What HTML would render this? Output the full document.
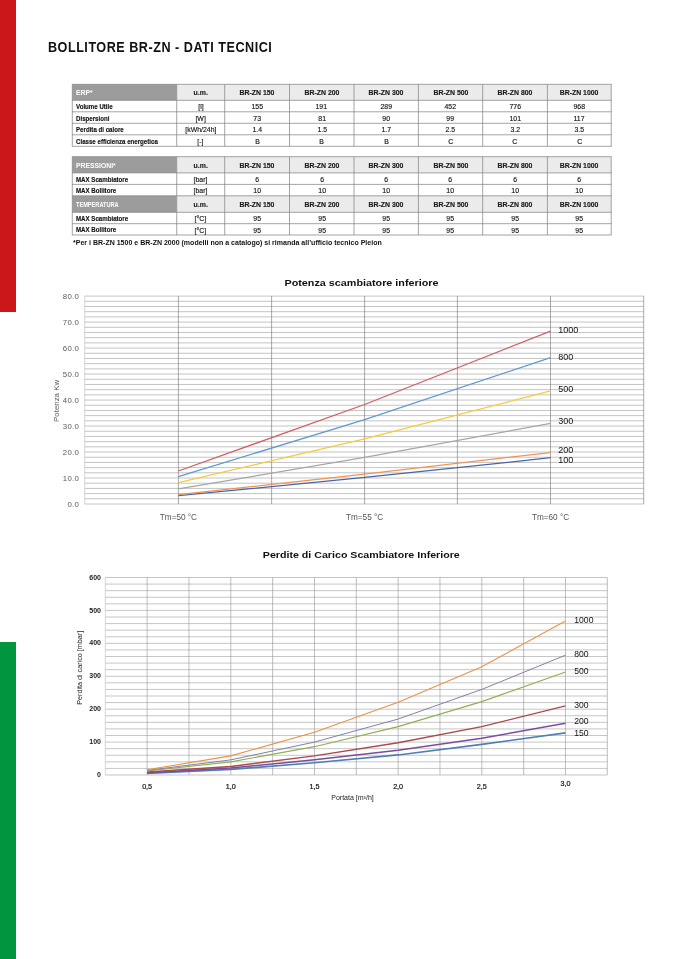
<!DOCTYPE html>
<html lang="it"><head><meta charset="utf-8"><title>Bollitore BR-ZN - Dati tecnici</title>
<style>
html,body{margin:0;padding:0;background:#fff;}
body{width:678px;height:959px;position:relative;overflow:hidden;font-family:"Liberation Sans",sans-serif;color:#1a1a1a;}
.abs{position:absolute;}
.bar{position:absolute;left:0;width:16px;}
.title{position:absolute;left:47.5px;top:40.1px;font-size:13.8px;font-weight:bold;white-space:nowrap;letter-spacing:0.55px;transform-origin:0 50%;transform:scaleX(0.915);color:#111;line-height:16px;}
.tb{position:absolute;left:0;top:0;width:678px;height:260px;}
.r{position:absolute;left:72.3px;width:539px;}
.r div{position:absolute;top:0;height:100%;text-align:center;white-space:nowrap;font-size:7.5px;color:#111;-webkit-text-stroke:0.15px #111;}
.r div span{display:inline-block;transform:scaleX(0.92);transform-origin:50% 50%;}
.r div.l, .r div.k{text-align:left;font-weight:bold;}
.r div.l span, .r div.k span{transform-origin:0 50%;}
.r div.l{color:#111;font-size:6.9px;}
.r div.l span{transform:scaleX(0.89);}
.r.h div{font-weight:bold;font-size:7.5px;color:#1c1c1c;}
.r.h div.k{color:#fff;font-size:7.4px;-webkit-text-stroke:0;}
.note{position:absolute;left:72.5px;top:238.3px;font-size:7.6px;font-weight:bold;white-space:nowrap;transform:scaleX(0.925);transform-origin:0 50%;line-height:10px;color:#111;}
svg{position:absolute;left:0;top:0;}
svg text{font-family:"Liberation Sans",sans-serif;}
</style></head><body>
<div class="bar" style="top:0;height:312.4px;background:#cb1719"></div>
<div class="bar" style="top:642.4px;height:317px;background:#00963f"></div>
<svg width="678" height="959" viewBox="0 0 678 959">
<rect x="72.3" y="84.30" width="104.40" height="16.00" fill="#9c9c9c"/>
<rect x="176.7" y="84.30" width="434.50" height="16.00" fill="#ebebeb"/>
<line x1="71.89999999999999" y1="84.30" x2="611.6" y2="84.30" stroke="#858585" stroke-width="0.75"/>
<line x1="71.89999999999999" y1="100.30" x2="611.6" y2="100.30" stroke="#858585" stroke-width="0.75"/>
<line x1="71.89999999999999" y1="111.80" x2="611.6" y2="111.80" stroke="#858585" stroke-width="0.75"/>
<line x1="71.89999999999999" y1="123.30" x2="611.6" y2="123.30" stroke="#858585" stroke-width="0.75"/>
<line x1="71.89999999999999" y1="134.80" x2="611.6" y2="134.80" stroke="#858585" stroke-width="0.75"/>
<line x1="71.89999999999999" y1="146.30" x2="611.6" y2="146.30" stroke="#858585" stroke-width="0.75"/>
<line x1="72.30" y1="84.30" x2="72.30" y2="146.30" stroke="#858585" stroke-width="0.75"/>
<line x1="176.70" y1="84.30" x2="176.70" y2="146.30" stroke="#858585" stroke-width="0.75"/>
<line x1="224.70" y1="84.30" x2="224.70" y2="146.30" stroke="#858585" stroke-width="0.75"/>
<line x1="289.50" y1="84.30" x2="289.50" y2="146.30" stroke="#858585" stroke-width="0.75"/>
<line x1="354.00" y1="84.30" x2="354.00" y2="146.30" stroke="#858585" stroke-width="0.75"/>
<line x1="418.40" y1="84.30" x2="418.40" y2="146.30" stroke="#858585" stroke-width="0.75"/>
<line x1="482.70" y1="84.30" x2="482.70" y2="146.30" stroke="#858585" stroke-width="0.75"/>
<line x1="547.40" y1="84.30" x2="547.40" y2="146.30" stroke="#858585" stroke-width="0.75"/>
<line x1="611.20" y1="84.30" x2="611.20" y2="146.30" stroke="#858585" stroke-width="0.75"/>
<rect x="72.3" y="156.70" width="104.40" height="16.20" fill="#9c9c9c"/>
<rect x="176.7" y="156.70" width="434.50" height="16.20" fill="#ebebeb"/>
<rect x="72.3" y="195.80" width="104.40" height="16.50" fill="#9c9c9c"/>
<rect x="176.7" y="195.80" width="434.50" height="16.50" fill="#ebebeb"/>
<line x1="71.89999999999999" y1="156.70" x2="611.6" y2="156.70" stroke="#858585" stroke-width="0.75"/>
<line x1="71.89999999999999" y1="172.90" x2="611.6" y2="172.90" stroke="#858585" stroke-width="0.75"/>
<line x1="71.89999999999999" y1="184.40" x2="611.6" y2="184.40" stroke="#858585" stroke-width="0.75"/>
<line x1="71.89999999999999" y1="195.80" x2="611.6" y2="195.80" stroke="#858585" stroke-width="0.75"/>
<line x1="71.89999999999999" y1="212.30" x2="611.6" y2="212.30" stroke="#858585" stroke-width="0.75"/>
<line x1="71.89999999999999" y1="223.70" x2="611.6" y2="223.70" stroke="#858585" stroke-width="0.75"/>
<line x1="71.89999999999999" y1="235.00" x2="611.6" y2="235.00" stroke="#858585" stroke-width="0.75"/>
<line x1="72.30" y1="156.70" x2="72.30" y2="235.00" stroke="#858585" stroke-width="0.75"/>
<line x1="176.70" y1="156.70" x2="176.70" y2="235.00" stroke="#858585" stroke-width="0.75"/>
<line x1="224.70" y1="156.70" x2="224.70" y2="235.00" stroke="#858585" stroke-width="0.75"/>
<line x1="289.50" y1="156.70" x2="289.50" y2="235.00" stroke="#858585" stroke-width="0.75"/>
<line x1="354.00" y1="156.70" x2="354.00" y2="235.00" stroke="#858585" stroke-width="0.75"/>
<line x1="418.40" y1="156.70" x2="418.40" y2="235.00" stroke="#858585" stroke-width="0.75"/>
<line x1="482.70" y1="156.70" x2="482.70" y2="235.00" stroke="#858585" stroke-width="0.75"/>
<line x1="547.40" y1="156.70" x2="547.40" y2="235.00" stroke="#858585" stroke-width="0.75"/>
<line x1="611.20" y1="156.70" x2="611.20" y2="235.00" stroke="#858585" stroke-width="0.75"/>
<line x1="84.70" y1="296.10" x2="643.70" y2="296.10" stroke="#c4c4c4" stroke-width="1.0"/>
<line x1="84.70" y1="301.30" x2="643.70" y2="301.30" stroke="#c4c4c4" stroke-width="1.0"/>
<line x1="84.70" y1="306.50" x2="643.70" y2="306.50" stroke="#c4c4c4" stroke-width="1.0"/>
<line x1="84.70" y1="311.69" x2="643.70" y2="311.69" stroke="#c4c4c4" stroke-width="1.0"/>
<line x1="84.70" y1="316.89" x2="643.70" y2="316.89" stroke="#c4c4c4" stroke-width="1.0"/>
<line x1="84.70" y1="322.09" x2="643.70" y2="322.09" stroke="#c4c4c4" stroke-width="1.0"/>
<line x1="84.70" y1="327.29" x2="643.70" y2="327.29" stroke="#c4c4c4" stroke-width="1.0"/>
<line x1="84.70" y1="332.48" x2="643.70" y2="332.48" stroke="#c4c4c4" stroke-width="1.0"/>
<line x1="84.70" y1="337.68" x2="643.70" y2="337.68" stroke="#c4c4c4" stroke-width="1.0"/>
<line x1="84.70" y1="342.88" x2="643.70" y2="342.88" stroke="#c4c4c4" stroke-width="1.0"/>
<line x1="84.70" y1="348.08" x2="643.70" y2="348.08" stroke="#c4c4c4" stroke-width="1.0"/>
<line x1="84.70" y1="353.27" x2="643.70" y2="353.27" stroke="#c4c4c4" stroke-width="1.0"/>
<line x1="84.70" y1="358.47" x2="643.70" y2="358.47" stroke="#c4c4c4" stroke-width="1.0"/>
<line x1="84.70" y1="363.67" x2="643.70" y2="363.67" stroke="#c4c4c4" stroke-width="1.0"/>
<line x1="84.70" y1="368.87" x2="643.70" y2="368.87" stroke="#c4c4c4" stroke-width="1.0"/>
<line x1="84.70" y1="374.06" x2="643.70" y2="374.06" stroke="#c4c4c4" stroke-width="1.0"/>
<line x1="84.70" y1="379.26" x2="643.70" y2="379.26" stroke="#c4c4c4" stroke-width="1.0"/>
<line x1="84.70" y1="384.46" x2="643.70" y2="384.46" stroke="#c4c4c4" stroke-width="1.0"/>
<line x1="84.70" y1="389.66" x2="643.70" y2="389.66" stroke="#c4c4c4" stroke-width="1.0"/>
<line x1="84.70" y1="394.85" x2="643.70" y2="394.85" stroke="#c4c4c4" stroke-width="1.0"/>
<line x1="84.70" y1="400.05" x2="643.70" y2="400.05" stroke="#c4c4c4" stroke-width="1.0"/>
<line x1="84.70" y1="405.25" x2="643.70" y2="405.25" stroke="#c4c4c4" stroke-width="1.0"/>
<line x1="84.70" y1="410.44" x2="643.70" y2="410.44" stroke="#c4c4c4" stroke-width="1.0"/>
<line x1="84.70" y1="415.64" x2="643.70" y2="415.64" stroke="#c4c4c4" stroke-width="1.0"/>
<line x1="84.70" y1="420.84" x2="643.70" y2="420.84" stroke="#c4c4c4" stroke-width="1.0"/>
<line x1="84.70" y1="426.04" x2="643.70" y2="426.04" stroke="#c4c4c4" stroke-width="1.0"/>
<line x1="84.70" y1="431.24" x2="643.70" y2="431.24" stroke="#c4c4c4" stroke-width="1.0"/>
<line x1="84.70" y1="436.43" x2="643.70" y2="436.43" stroke="#c4c4c4" stroke-width="1.0"/>
<line x1="84.70" y1="441.63" x2="643.70" y2="441.63" stroke="#c4c4c4" stroke-width="1.0"/>
<line x1="84.70" y1="446.83" x2="643.70" y2="446.83" stroke="#c4c4c4" stroke-width="1.0"/>
<line x1="84.70" y1="452.02" x2="643.70" y2="452.02" stroke="#c4c4c4" stroke-width="1.0"/>
<line x1="84.70" y1="457.22" x2="643.70" y2="457.22" stroke="#c4c4c4" stroke-width="1.0"/>
<line x1="84.70" y1="462.42" x2="643.70" y2="462.42" stroke="#c4c4c4" stroke-width="1.0"/>
<line x1="84.70" y1="467.62" x2="643.70" y2="467.62" stroke="#c4c4c4" stroke-width="1.0"/>
<line x1="84.70" y1="472.81" x2="643.70" y2="472.81" stroke="#c4c4c4" stroke-width="1.0"/>
<line x1="84.70" y1="478.01" x2="643.70" y2="478.01" stroke="#c4c4c4" stroke-width="1.0"/>
<line x1="84.70" y1="483.21" x2="643.70" y2="483.21" stroke="#c4c4c4" stroke-width="1.0"/>
<line x1="84.70" y1="488.41" x2="643.70" y2="488.41" stroke="#c4c4c4" stroke-width="1.0"/>
<line x1="84.70" y1="493.61" x2="643.70" y2="493.61" stroke="#c4c4c4" stroke-width="1.0"/>
<line x1="84.70" y1="498.80" x2="643.70" y2="498.80" stroke="#c4c4c4" stroke-width="1.0"/>
<line x1="84.70" y1="504.00" x2="643.70" y2="504.00" stroke="#c4c4c4" stroke-width="1.0"/>
<line x1="84.70" y1="296.10" x2="84.70" y2="504.00" stroke="#c0c0c0" stroke-width="0.65"/>
<line x1="178.40" y1="296.10" x2="178.40" y2="504.00" stroke="#7c7c7c" stroke-width="0.65"/>
<line x1="271.60" y1="296.10" x2="271.60" y2="504.00" stroke="#7c7c7c" stroke-width="0.65"/>
<line x1="364.60" y1="296.10" x2="364.60" y2="504.00" stroke="#7c7c7c" stroke-width="0.65"/>
<line x1="457.40" y1="296.10" x2="457.40" y2="504.00" stroke="#7c7c7c" stroke-width="0.65"/>
<line x1="550.50" y1="296.10" x2="550.50" y2="504.00" stroke="#7c7c7c" stroke-width="0.65"/>
<line x1="643.70" y1="296.10" x2="643.70" y2="504.00" stroke="#7c7c7c" stroke-width="0.65"/>
<polyline points="178.40,495.68 364.60,477.49 550.50,457.74" fill="none" stroke="#4866a6" stroke-width="1.25" stroke-linejoin="round"/>
<polyline points="178.40,494.64 364.60,474.11 550.50,452.54" fill="none" stroke="#ee9455" stroke-width="1.25" stroke-linejoin="round"/>
<polyline points="178.40,488.93 364.60,457.48 550.50,423.44" fill="none" stroke="#a6a6a6" stroke-width="1.25" stroke-linejoin="round"/>
<polyline points="178.40,482.69 364.60,438.77 550.50,390.95" fill="none" stroke="#f4cb3c" stroke-width="1.25" stroke-linejoin="round"/>
<polyline points="178.40,476.71 364.60,419.54 550.50,357.69" fill="none" stroke="#6199cd" stroke-width="1.25" stroke-linejoin="round"/>
<polyline points="178.40,471.00 364.60,404.47 550.50,331.18" fill="none" stroke="#cf5e62" stroke-width="1.25" stroke-linejoin="round"/>
<text x="558.20" y="332.70" font-size="9" fill="#111" text-anchor="start" font-weight="normal" >1000</text>
<text x="558.20" y="359.70" font-size="9" fill="#111" text-anchor="start" font-weight="normal" >800</text>
<text x="558.20" y="391.70" font-size="9" fill="#111" text-anchor="start" font-weight="normal" >500</text>
<text x="558.20" y="423.70" font-size="9" fill="#111" text-anchor="start" font-weight="normal" >300</text>
<text x="558.20" y="452.70" font-size="9" fill="#111" text-anchor="start" font-weight="normal" >200</text>
<text x="558.20" y="462.50" font-size="9" fill="#111" text-anchor="start" font-weight="normal" >100</text>
<text x="79.00" y="507.20" font-size="7.8" fill="#585858" text-anchor="end" font-weight="normal" letter-spacing="0.25">0.0</text>
<text x="79.00" y="481.21" font-size="7.8" fill="#585858" text-anchor="end" font-weight="normal" letter-spacing="0.25">10.0</text>
<text x="79.00" y="455.22" font-size="7.8" fill="#585858" text-anchor="end" font-weight="normal" letter-spacing="0.25">20.0</text>
<text x="79.00" y="429.24" font-size="7.8" fill="#585858" text-anchor="end" font-weight="normal" letter-spacing="0.25">30.0</text>
<text x="79.00" y="403.25" font-size="7.8" fill="#585858" text-anchor="end" font-weight="normal" letter-spacing="0.25">40.0</text>
<text x="79.00" y="377.26" font-size="7.8" fill="#585858" text-anchor="end" font-weight="normal" letter-spacing="0.25">50.0</text>
<text x="79.00" y="351.28" font-size="7.8" fill="#585858" text-anchor="end" font-weight="normal" letter-spacing="0.25">60.0</text>
<text x="79.00" y="325.29" font-size="7.8" fill="#585858" text-anchor="end" font-weight="normal" letter-spacing="0.25">70.0</text>
<text x="79.00" y="299.30" font-size="7.8" fill="#585858" text-anchor="end" font-weight="normal" letter-spacing="0.25">80.0</text>
<text x="178.40" y="519.80" font-size="8.2" fill="#555" text-anchor="middle" font-weight="normal" >Tm=50 °C</text>
<text x="364.60" y="519.80" font-size="8.2" fill="#555" text-anchor="middle" font-weight="normal" >Tm=55 °C</text>
<text x="550.50" y="519.80" font-size="8.2" fill="#555" text-anchor="middle" font-weight="normal" >Tm=60 °C</text>
<text x="361.50" y="285.80" font-size="9.8" fill="#111" text-anchor="middle" font-weight="bold" textLength="154" lengthAdjust="spacingAndGlyphs">Potenza scambiatore inferiore</text>
<text transform="translate(58.6,400.9) rotate(-90)" font-size="7.8" fill="#585858" text-anchor="middle" textLength="42" lengthAdjust="spacingAndGlyphs">Potenza Kw</text>
<line x1="105.30" y1="577.50" x2="607.30" y2="577.50" stroke="#adadad" stroke-width="0.7"/>
<line x1="105.30" y1="584.08" x2="607.30" y2="584.08" stroke="#adadad" stroke-width="0.7"/>
<line x1="105.30" y1="590.67" x2="607.30" y2="590.67" stroke="#adadad" stroke-width="0.7"/>
<line x1="105.30" y1="597.25" x2="607.30" y2="597.25" stroke="#adadad" stroke-width="0.7"/>
<line x1="105.30" y1="603.83" x2="607.30" y2="603.83" stroke="#adadad" stroke-width="0.7"/>
<line x1="105.30" y1="610.42" x2="607.30" y2="610.42" stroke="#adadad" stroke-width="0.7"/>
<line x1="105.30" y1="617.00" x2="607.30" y2="617.00" stroke="#adadad" stroke-width="0.7"/>
<line x1="105.30" y1="623.58" x2="607.30" y2="623.58" stroke="#adadad" stroke-width="0.7"/>
<line x1="105.30" y1="630.17" x2="607.30" y2="630.17" stroke="#adadad" stroke-width="0.7"/>
<line x1="105.30" y1="636.75" x2="607.30" y2="636.75" stroke="#adadad" stroke-width="0.7"/>
<line x1="105.30" y1="643.33" x2="607.30" y2="643.33" stroke="#adadad" stroke-width="0.7"/>
<line x1="105.30" y1="649.92" x2="607.30" y2="649.92" stroke="#adadad" stroke-width="0.7"/>
<line x1="105.30" y1="656.50" x2="607.30" y2="656.50" stroke="#adadad" stroke-width="0.7"/>
<line x1="105.30" y1="663.08" x2="607.30" y2="663.08" stroke="#adadad" stroke-width="0.7"/>
<line x1="105.30" y1="669.67" x2="607.30" y2="669.67" stroke="#adadad" stroke-width="0.7"/>
<line x1="105.30" y1="676.25" x2="607.30" y2="676.25" stroke="#adadad" stroke-width="0.7"/>
<line x1="105.30" y1="682.83" x2="607.30" y2="682.83" stroke="#adadad" stroke-width="0.7"/>
<line x1="105.30" y1="689.42" x2="607.30" y2="689.42" stroke="#adadad" stroke-width="0.7"/>
<line x1="105.30" y1="696.00" x2="607.30" y2="696.00" stroke="#adadad" stroke-width="0.7"/>
<line x1="105.30" y1="702.58" x2="607.30" y2="702.58" stroke="#adadad" stroke-width="0.7"/>
<line x1="105.30" y1="709.17" x2="607.30" y2="709.17" stroke="#adadad" stroke-width="0.7"/>
<line x1="105.30" y1="715.75" x2="607.30" y2="715.75" stroke="#adadad" stroke-width="0.7"/>
<line x1="105.30" y1="722.33" x2="607.30" y2="722.33" stroke="#adadad" stroke-width="0.7"/>
<line x1="105.30" y1="728.92" x2="607.30" y2="728.92" stroke="#adadad" stroke-width="0.7"/>
<line x1="105.30" y1="735.50" x2="607.30" y2="735.50" stroke="#adadad" stroke-width="0.7"/>
<line x1="105.30" y1="742.08" x2="607.30" y2="742.08" stroke="#adadad" stroke-width="0.7"/>
<line x1="105.30" y1="748.67" x2="607.30" y2="748.67" stroke="#adadad" stroke-width="0.7"/>
<line x1="105.30" y1="755.25" x2="607.30" y2="755.25" stroke="#adadad" stroke-width="0.7"/>
<line x1="105.30" y1="761.83" x2="607.30" y2="761.83" stroke="#adadad" stroke-width="0.7"/>
<line x1="105.30" y1="768.42" x2="607.30" y2="768.42" stroke="#adadad" stroke-width="0.7"/>
<line x1="105.30" y1="775.00" x2="607.30" y2="775.00" stroke="#adadad" stroke-width="0.7"/>
<line x1="105.30" y1="577.50" x2="105.30" y2="775.00" stroke="#c0c0c0" stroke-width="0.65"/>
<line x1="147.13" y1="577.50" x2="147.13" y2="775.00" stroke="#9a9aa2" stroke-width="0.65"/>
<line x1="188.97" y1="577.50" x2="188.97" y2="775.00" stroke="#9a9aa2" stroke-width="0.65"/>
<line x1="230.80" y1="577.50" x2="230.80" y2="775.00" stroke="#9a9aa2" stroke-width="0.65"/>
<line x1="272.63" y1="577.50" x2="272.63" y2="775.00" stroke="#9a9aa2" stroke-width="0.65"/>
<line x1="314.47" y1="577.50" x2="314.47" y2="775.00" stroke="#9a9aa2" stroke-width="0.65"/>
<line x1="356.30" y1="577.50" x2="356.30" y2="775.00" stroke="#9a9aa2" stroke-width="0.65"/>
<line x1="398.13" y1="577.50" x2="398.13" y2="775.00" stroke="#9a9aa2" stroke-width="0.65"/>
<line x1="439.97" y1="577.50" x2="439.97" y2="775.00" stroke="#9a9aa2" stroke-width="0.65"/>
<line x1="481.80" y1="577.50" x2="481.80" y2="775.00" stroke="#9a9aa2" stroke-width="0.65"/>
<line x1="523.63" y1="577.50" x2="523.63" y2="775.00" stroke="#9a9aa2" stroke-width="0.65"/>
<line x1="565.47" y1="577.50" x2="565.47" y2="775.00" stroke="#9a9aa2" stroke-width="0.65"/>
<line x1="607.30" y1="577.50" x2="607.30" y2="775.00" stroke="#9a9aa2" stroke-width="0.65"/>
<polyline points="147.13,773.35 230.80,769.40 314.47,762.82 398.13,754.92 481.80,744.39 565.47,732.87" fill="none" stroke="#4f7fb3" stroke-width="1.6" stroke-linejoin="round"/>
<polyline points="147.13,772.70 230.80,768.09 314.47,759.86 398.13,750.31 481.80,738.30 565.47,723.32" fill="none" stroke="#7a4d9f" stroke-width="1.5" stroke-linejoin="round"/>
<polyline points="147.13,772.04 230.80,766.44 314.47,755.91 398.13,742.74 481.80,726.61 565.47,705.88" fill="none" stroke="#a94a4c" stroke-width="1.4" stroke-linejoin="round"/>
<polyline points="147.13,771.05 230.80,761.83 314.47,746.69 398.13,726.61 481.80,701.60 565.47,671.97" fill="none" stroke="#8fb050" stroke-width="1.15" stroke-linejoin="round"/>
<polyline points="147.13,770.39 230.80,759.86 314.47,742.08 398.13,719.04 481.80,689.42 565.47,655.18" fill="none" stroke="#7f779f" stroke-width="0.95" stroke-linejoin="round"/>
<polyline points="147.13,769.73 230.80,755.91 314.47,732.21 398.13,702.25 481.80,666.70 565.47,620.95" fill="none" stroke="#e8924a" stroke-width="1.15" stroke-linejoin="round"/>
<text x="574.30" y="622.70" font-size="8.6" fill="#111" text-anchor="start" font-weight="normal" >1000</text>
<text x="574.30" y="657.40" font-size="8.6" fill="#111" text-anchor="start" font-weight="normal" >800</text>
<text x="574.30" y="674.40" font-size="8.6" fill="#111" text-anchor="start" font-weight="normal" >500</text>
<text x="574.30" y="707.70" font-size="8.6" fill="#111" text-anchor="start" font-weight="normal" >300</text>
<text x="574.30" y="724.40" font-size="8.6" fill="#111" text-anchor="start" font-weight="normal" >200</text>
<text x="574.30" y="736.10" font-size="8.6" fill="#111" text-anchor="start" font-weight="normal" >150</text>
<text x="101.00" y="777.10" font-size="7" fill="#222" text-anchor="end" font-weight="bold" transform-origin="101 0">0</text>
<text x="101.00" y="744.18" font-size="7" fill="#222" text-anchor="end" font-weight="bold" transform-origin="101 0">100</text>
<text x="101.00" y="711.27" font-size="7" fill="#222" text-anchor="end" font-weight="bold" transform-origin="101 0">200</text>
<text x="101.00" y="678.35" font-size="7" fill="#222" text-anchor="end" font-weight="bold" transform-origin="101 0">300</text>
<text x="101.00" y="645.43" font-size="7" fill="#222" text-anchor="end" font-weight="bold" transform-origin="101 0">400</text>
<text x="101.00" y="612.52" font-size="7" fill="#222" text-anchor="end" font-weight="bold" transform-origin="101 0">500</text>
<text x="101.00" y="579.60" font-size="7" fill="#222" text-anchor="end" font-weight="bold" transform-origin="101 0">600</text>
<text x="147.13" y="789.00" font-size="7.2" fill="#111" text-anchor="middle" font-weight="normal" stroke="#111" stroke-width="0.2">0,5</text>
<text x="230.80" y="789.00" font-size="7.2" fill="#111" text-anchor="middle" font-weight="normal" stroke="#111" stroke-width="0.2">1,0</text>
<text x="314.47" y="789.00" font-size="7.2" fill="#111" text-anchor="middle" font-weight="normal" stroke="#111" stroke-width="0.2">1,5</text>
<text x="398.13" y="789.00" font-size="7.2" fill="#111" text-anchor="middle" font-weight="normal" stroke="#111" stroke-width="0.2">2,0</text>
<text x="481.80" y="789.00" font-size="7.2" fill="#111" text-anchor="middle" font-weight="normal" stroke="#111" stroke-width="0.2">2,5</text>
<text x="565.47" y="785.90" font-size="7.2" fill="#111" text-anchor="middle" font-weight="normal" stroke="#111" stroke-width="0.2">3,0</text>
<text x="352.50" y="799.60" font-size="6.8" fill="#222" text-anchor="middle" font-weight="normal" textLength="42.5" lengthAdjust="spacingAndGlyphs">Portata [m³/h]</text>
<text x="361.30" y="557.60" font-size="9.3" fill="#111" text-anchor="middle" font-weight="bold" textLength="197" lengthAdjust="spacingAndGlyphs">Perdite di Carico Scambiatore Inferiore</text>
<text transform="translate(81.8,667.8) rotate(-90)" font-size="7" fill="#222" text-anchor="middle" textLength="74" lengthAdjust="spacingAndGlyphs">Perdita di carico [mbar]</text>
</svg>
<div class="title">BOLLITORE BR-ZN - DATI TECNICI</div>
<div class="r h" style="top:84.30px;height:16.00px;line-height:17.80px"><div class="k" style="left:3.30px;width:101.10px;margin-top:-0.2px"><span>ERP*</span></div><div style="left:104.40px;width:48.00px"><span>u.m.</span></div><div style="left:152.40px;width:64.80px"><span>BR-ZN 150</span></div><div style="left:217.20px;width:64.50px"><span>BR-ZN 200</span></div><div style="left:281.70px;width:64.40px"><span>BR-ZN 300</span></div><div style="left:346.10px;width:64.30px"><span>BR-ZN 500</span></div><div style="left:410.40px;width:64.70px"><span>BR-ZN 800</span></div><div style="left:475.10px;width:63.80px"><span>BR-ZN 1000</span></div></div><div class="r" style="top:100.30px;height:11.50px;line-height:13.30px"><div class="l" style="left:3.30px;width:101.10px;margin-top:-0.3px"><span>Volume Utile</span></div><div style="left:104.40px;width:48.00px"><span>[l]</span></div><div style="left:152.40px;width:64.80px"><span>155</span></div><div style="left:217.20px;width:64.50px"><span>191</span></div><div style="left:281.70px;width:64.40px"><span>289</span></div><div style="left:346.10px;width:64.30px"><span>452</span></div><div style="left:410.40px;width:64.70px"><span>776</span></div><div style="left:475.10px;width:63.80px"><span>968</span></div></div><div class="r" style="top:111.80px;height:11.50px;line-height:13.30px"><div class="l" style="left:3.30px;width:101.10px;margin-top:-0.3px"><span>Dispersioni</span></div><div style="left:104.40px;width:48.00px"><span>[W]</span></div><div style="left:152.40px;width:64.80px"><span>73</span></div><div style="left:217.20px;width:64.50px"><span>81</span></div><div style="left:281.70px;width:64.40px"><span>90</span></div><div style="left:346.10px;width:64.30px"><span>99</span></div><div style="left:410.40px;width:64.70px"><span>101</span></div><div style="left:475.10px;width:63.80px"><span>117</span></div></div><div class="r" style="top:123.30px;height:11.50px;line-height:13.30px"><div class="l" style="left:3.30px;width:101.10px;margin-top:-0.3px"><span>Perdita di calore</span></div><div style="left:104.40px;width:48.00px"><span>[kWh/24h]</span></div><div style="left:152.40px;width:64.80px"><span>1.4</span></div><div style="left:217.20px;width:64.50px"><span>1.5</span></div><div style="left:281.70px;width:64.40px"><span>1.7</span></div><div style="left:346.10px;width:64.30px"><span>2.5</span></div><div style="left:410.40px;width:64.70px"><span>3.2</span></div><div style="left:475.10px;width:63.80px"><span>3.5</span></div></div><div class="r" style="top:134.80px;height:11.50px;line-height:13.30px"><div class="l" style="left:3.30px;width:101.10px;margin-top:-0.3px"><span>Classe efficienza energetica</span></div><div style="left:104.40px;width:48.00px"><span>[-]</span></div><div style="left:152.40px;width:64.80px"><span>B</span></div><div style="left:217.20px;width:64.50px"><span>B</span></div><div style="left:281.70px;width:64.40px"><span>B</span></div><div style="left:346.10px;width:64.30px"><span>C</span></div><div style="left:410.40px;width:64.70px"><span>C</span></div><div style="left:475.10px;width:63.80px"><span>C</span></div></div>
<div class="r h" style="top:156.70px;height:16.20px;line-height:18.00px"><div class="k" style="left:3.30px;width:101.10px;margin-top:-0.2px"><span>PRESSIONI*</span></div><div style="left:104.40px;width:48.00px"><span>u.m.</span></div><div style="left:152.40px;width:64.80px"><span>BR-ZN 150</span></div><div style="left:217.20px;width:64.50px"><span>BR-ZN 200</span></div><div style="left:281.70px;width:64.40px"><span>BR-ZN 300</span></div><div style="left:346.10px;width:64.30px"><span>BR-ZN 500</span></div><div style="left:410.40px;width:64.70px"><span>BR-ZN 800</span></div><div style="left:475.10px;width:63.80px"><span>BR-ZN 1000</span></div></div><div class="r" style="top:172.90px;height:11.50px;line-height:13.30px"><div class="l" style="left:3.30px;width:101.10px;margin-top:-0.3px"><span>MAX Scambiatore</span></div><div style="left:104.40px;width:48.00px"><span>[bar]</span></div><div style="left:152.40px;width:64.80px"><span>6</span></div><div style="left:217.20px;width:64.50px"><span>6</span></div><div style="left:281.70px;width:64.40px"><span>6</span></div><div style="left:346.10px;width:64.30px"><span>6</span></div><div style="left:410.40px;width:64.70px"><span>6</span></div><div style="left:475.10px;width:63.80px"><span>6</span></div></div><div class="r" style="top:184.40px;height:11.40px;line-height:13.20px"><div class="l" style="left:3.30px;width:101.10px;margin-top:-0.3px"><span>MAX Bollitore</span></div><div style="left:104.40px;width:48.00px"><span>[bar]</span></div><div style="left:152.40px;width:64.80px"><span>10</span></div><div style="left:217.20px;width:64.50px"><span>10</span></div><div style="left:281.70px;width:64.40px"><span>10</span></div><div style="left:346.10px;width:64.30px"><span>10</span></div><div style="left:410.40px;width:64.70px"><span>10</span></div><div style="left:475.10px;width:63.80px"><span>10</span></div></div><div class="r h" style="top:195.80px;height:16.50px;line-height:18.30px"><div class="k" style="left:3.30px;width:101.10px;margin-top:0.3px"><span style="transform:scaleX(0.76)">TEMPERATURA</span></div><div style="left:104.40px;width:48.00px"><span>u.m.</span></div><div style="left:152.40px;width:64.80px"><span>BR-ZN 150</span></div><div style="left:217.20px;width:64.50px"><span>BR-ZN 200</span></div><div style="left:281.70px;width:64.40px"><span>BR-ZN 300</span></div><div style="left:346.10px;width:64.30px"><span>BR-ZN 500</span></div><div style="left:410.40px;width:64.70px"><span>BR-ZN 800</span></div><div style="left:475.10px;width:63.80px"><span>BR-ZN 1000</span></div></div><div class="r" style="top:212.30px;height:11.40px;line-height:13.20px"><div class="l" style="left:3.30px;width:101.10px;margin-top:-0.3px"><span>MAX Scambiatore</span></div><div style="left:104.40px;width:48.00px"><span>[°C]</span></div><div style="left:152.40px;width:64.80px"><span>95</span></div><div style="left:217.20px;width:64.50px"><span>95</span></div><div style="left:281.70px;width:64.40px"><span>95</span></div><div style="left:346.10px;width:64.30px"><span>95</span></div><div style="left:410.40px;width:64.70px"><span>95</span></div><div style="left:475.10px;width:63.80px"><span>95</span></div></div><div class="r" style="top:223.70px;height:11.30px;line-height:13.10px"><div class="l" style="left:3.30px;width:101.10px;margin-top:-0.3px"><span>MAX Bollitore</span></div><div style="left:104.40px;width:48.00px"><span>[°C]</span></div><div style="left:152.40px;width:64.80px"><span>95</span></div><div style="left:217.20px;width:64.50px"><span>95</span></div><div style="left:281.70px;width:64.40px"><span>95</span></div><div style="left:346.10px;width:64.30px"><span>95</span></div><div style="left:410.40px;width:64.70px"><span>95</span></div><div style="left:475.10px;width:63.80px"><span>95</span></div></div>
<div class="note">*Per i BR-ZN 1500 e BR-ZN 2000 (modelli non a catalogo) si rimanda all’ufficio tecnico Pleion</div>
</body></html>
